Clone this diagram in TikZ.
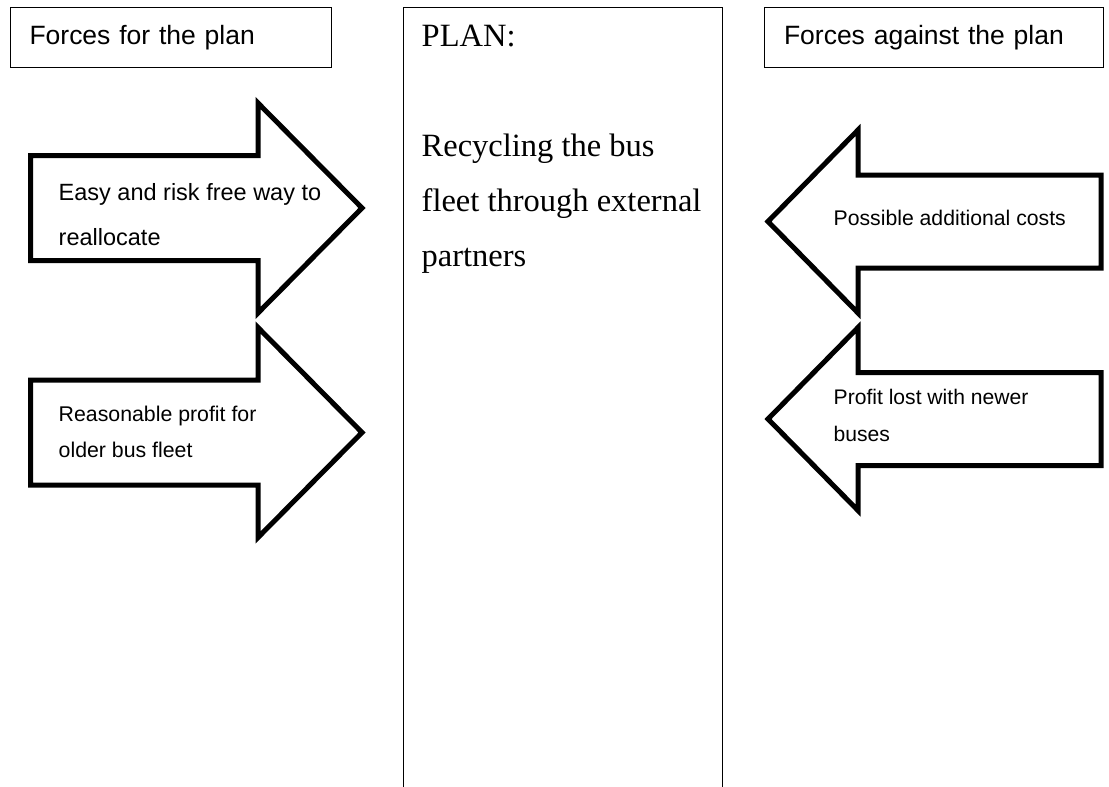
\documentclass[tikz,border=0pt]{standalone}
\usepackage{fontspec}
\setmainfont{Liberation Sans}
\newfontfamily\planserif{Liberation Serif}
\begin{document}
\begin{tikzpicture}[x=1pt,y=-1pt,
  thinbox/.style={draw=black, line width=1pt, anchor=north west, inner ysep=0pt, align=left},
  fatarrow/.style={draw=black, line width=5pt, line join=miter, fill=white},
  armtext/.style={anchor=base west, inner sep=0pt, align=left}]
\useasboundingbox[fill=white] (0,0) rectangle (1109,787);

% headers
\node[thinbox, minimum width=321pt, minimum height=60pt, text width=283pt, inner xsep=19pt,
      font=\fontsize{26.5}{30}\selectfont] (forhdr) at (10,7) {Forces for the plan};
\node[thinbox, minimum width=338.4pt, minimum height=60pt, text width=300pt, inner xsep=19.2pt,
      font=\fontsize{26.5}{30}\selectfont] (againsthdr) at (764.3,7) {Forces against the plan};

% plan column
\coordinate (pbl) at (403,787);
\coordinate (ptl) at (403,7);
\coordinate (ptr) at (722.5,7);
\coordinate (pbr) at (722.5,787);
\draw[line width=1pt] (pbl) -- (ptl) -- (ptr) -- (pbr);
% base anchor of a multi-line node is the baseline of its last line
\node[armtext, font=\planserif\fontsize{32.5}{55}\selectfont] (plan) at (421.5,266.7)
  {PLAN:\\[55pt]Recycling the bus\\fleet through external\\partners};

% forces for
\draw[fatarrow] (30.5,155.5) -- (258,155.5) -- (258,103) -- (362,208) -- (258,313) -- (258,260.5) -- (30.5,260.5) -- cycle;
\draw[fatarrow] (30.5,380) -- (258,380) -- (258,327.5) -- (362,432.5) -- (258,537.5) -- (258,485) -- (30.5,485) -- cycle;

% forces against
\draw[fatarrow] (1101,175) -- (858,175) -- (858,130) -- (768,221.5) -- (858,313) -- (858,268) -- (1101,268) -- cycle;
\draw[fatarrow] (1101,372.5) -- (858,372.5) -- (858,327.5) -- (768,419) -- (858,510.5) -- (858,465.5) -- (1101,465.5) -- cycle;

\node[armtext, font=\fontsize{23.5}{45}\selectfont] (easy) at (58.5,245) {Easy and risk free way to\\reallocate};
\node[armtext, font=\fontsize{21.3}{36}\selectfont] (profit) at (58.5,457) {Reasonable profit for\\older bus fleet};
\node[armtext, font=\fontsize{21.2}{36.7}\selectfont] (costs) at (833.5,225) {Possible additional costs};
\node[armtext, font=\fontsize{21.1}{36.7}\selectfont] (lost) at (833.5,441) {Profit lost with newer\\buses};
\end{tikzpicture}
\end{document}
